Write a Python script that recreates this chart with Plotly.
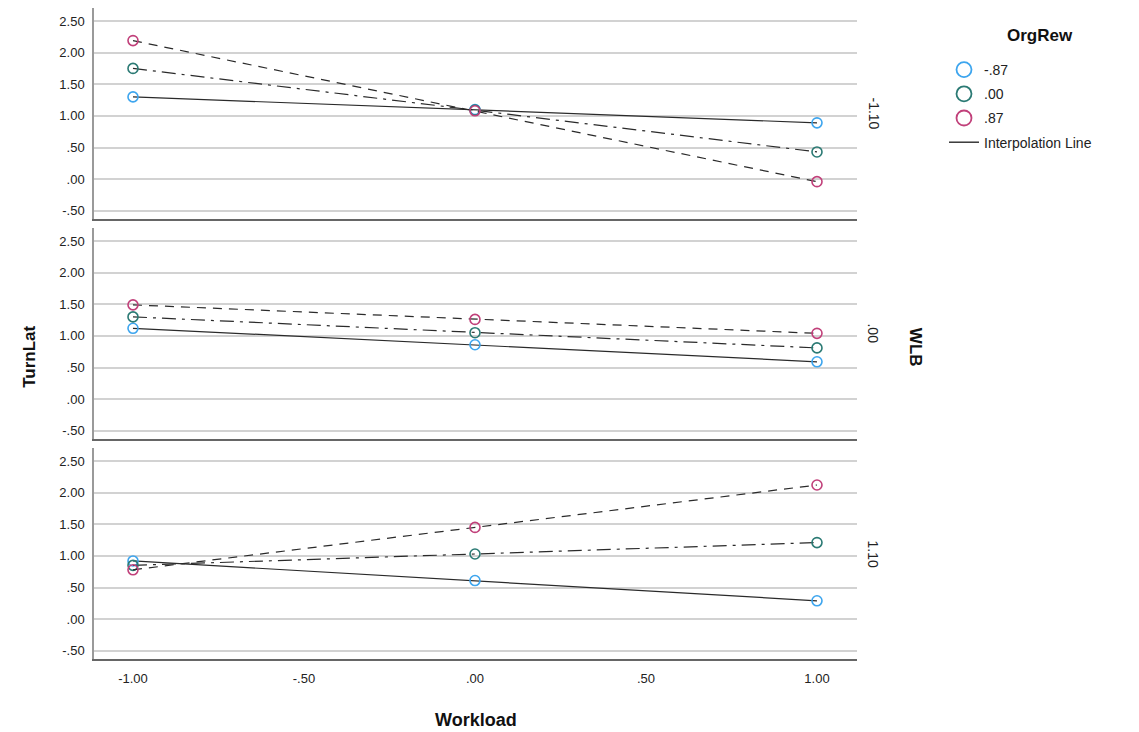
import plotly.graph_objects as go
from plotly.subplots import make_subplots

workload = [-1.0, 0.0, 1.0]
workload_ticks = [-1.0, -0.5, 0.0, 0.5, 1.0]
workload_ticktext = ["-1.00", "-.50", ".00", ".50", "1.00"]
y_ticks = [-0.5, 0.0, 0.5, 1.0, 1.5, 2.0, 2.5]
y_ticktext = ["-.50", ".00", ".50", "1.00", "1.50", "2.00", "2.50"]

wlb_levels = ["-1.10", ".00", "1.10"]
orgrew_levels = ["-.87", ".00", ".87"]

# TurnLat values per WLB panel, per OrgRew level (at Workload -1, 0, 1)
wlb_m110_orgrew_m087 = [1.30, 1.10, 0.89]
wlb_m110_orgrew_000 = [1.75, 1.09, 0.43]
wlb_m110_orgrew_087 = [2.19, 1.08, -0.04]

wlb_000_orgrew_m087 = [1.12, 0.86, 0.59]
wlb_000_orgrew_000 = [1.30, 1.05, 0.81]
wlb_000_orgrew_087 = [1.49, 1.26, 1.04]

wlb_110_orgrew_m087 = [0.92, 0.61, 0.29]
wlb_110_orgrew_000 = [0.85, 1.03, 1.21]
wlb_110_orgrew_087 = [0.78, 1.45, 2.12]

panels = [
    [wlb_m110_orgrew_m087, wlb_m110_orgrew_000, wlb_m110_orgrew_087],
    [wlb_000_orgrew_m087, wlb_000_orgrew_000, wlb_000_orgrew_087],
    [wlb_110_orgrew_m087, wlb_110_orgrew_000, wlb_110_orgrew_087],
]

marker_colors = ["#3DA5EE", "#2B7A74", "#C1407A"]
dashes = ["solid", "14px,6px,3px,6px", "9px,7px"]
line_color = "#2a2a2a"
FONT = "Liberation Sans, Arial, sans-serif"

fig = make_subplots(rows=3, cols=1, shared_xaxes=True, vertical_spacing=0.0138)

for r, series in enumerate(panels, start=1):
    for k, vals in enumerate(series):
        fig.add_trace(go.Scatter(
            x=workload, y=vals, mode="lines+markers",
            line=dict(color=line_color, width=1.2, dash=dashes[k]),
            marker=dict(symbol="circle-open", size=10, color=marker_colors[k],
                        line=dict(width=1.6, color=marker_colors[k])),
            showlegend=False, hoverinfo="x+y",
        ), row=r, col=1)

# legend entries
for k, lab in enumerate(orgrew_levels):
    fig.add_trace(go.Scatter(
        x=[None], y=[None], mode="markers", name=lab, legendgroup="g%d" % k,
        marker=dict(symbol="circle-open", size=15, color=marker_colors[k],
                    line=dict(width=1.8, color=marker_colors[k])),
        showlegend=True,
    ), row=1, col=1)
fig.add_trace(go.Scatter(
    x=[None], y=[None], mode="lines", name="Interpolation Line", legendgroup="g3",
    line=dict(color=line_color, width=1.4), showlegend=True,
), row=1, col=1)

doms = [[0.6759, 1.0], [0.3379, 0.6621], [0.0, 0.3241]]
for r in range(1, 4):
    fig.update_yaxes(
        row=r, col=1, domain=doms[r - 1],
        range=[-0.63, 2.705], tickvals=y_ticks, ticktext=y_ticktext,
        showgrid=True, gridcolor="#d2d2d2", gridwidth=2,
        showline=True, linecolor="#9a9a9a", linewidth=1.5,
        ticks="outside", ticklen=5, tickcolor="rgba(0,0,0,0)",
        tickfont=dict(family=FONT, size=13, color="#222"),
        zeroline=False, fixedrange=True,
    )
    fig.update_xaxes(
        row=r, col=1,
        range=[-1.114, 1.117], tickvals=workload_ticks, ticktext=workload_ticktext,
        showgrid=False, zeroline=False,
        showline=True, linecolor="#666666", linewidth=2,
        ticks="outside", ticklen=6, tickcolor="rgba(0,0,0,0)",
        showticklabels=(r == 3),
        tickfont=dict(family=FONT, size=13, color="#222"),
    )

annotations = []
centers = [(d[0] + d[1]) / 2 for d in doms]
for lab, yc in zip(wlb_levels, centers):
    annotations.append(dict(
        x=1.021, y=yc, xref="paper", yref="paper", text=lab, showarrow=False,
        textangle=90, font=dict(family=FONT, size=14, color="#222"),
        xanchor="center", yanchor="middle"))
annotations.append(dict(
    x=1.076, y=0.478, xref="paper", yref="paper", text="<b>WLB</b>", showarrow=False,
    textangle=90, font=dict(family=FONT, size=17, color="#111"),
    xanchor="center", yanchor="middle"))
annotations.append(dict(
    x=-0.084, y=0.464, xref="paper", yref="paper", text="<b>TurnLat</b>", showarrow=False,
    textangle=-90, font=dict(family=FONT, size=17, color="#111"),
    xanchor="center", yanchor="middle"))
annotations.append(dict(
    x=0.5, y=-0.094, xref="paper", yref="paper", text="<b>Workload</b>", showarrow=False,
    font=dict(family=FONT, size=18, color="#111"),
    xanchor="center", yanchor="middle"))
# legend title
annotations.append(dict(
    x=(1040 - 94) / 763, y=(659 - 35) / 651, xref="paper", yref="paper",
    text="<b>OrgRew</b>", showarrow=False,
    font=dict(family=FONT, size=17, color="#111"),
    xanchor="center", yanchor="middle"))

fig.update_layout(
    width=1139, height=732,
    margin=dict(l=94, r=282, t=8, b=73),
    paper_bgcolor="white", plot_bgcolor="white",
    annotations=annotations,
    legend=dict(
        x=(944 - 94) / 763, y=(659 - 54) / 651, xanchor="left", yanchor="top",
        font=dict(family=FONT, size=14, color="#222"),
        tracegroupgap=3, itemsizing="trace",
        bgcolor="rgba(0,0,0,0)",
    ),
    font=dict(family=FONT),
)

fig.write_html("out.html", config={"displayModeBar": False},
               post_script="document.body.style.margin='0';")
